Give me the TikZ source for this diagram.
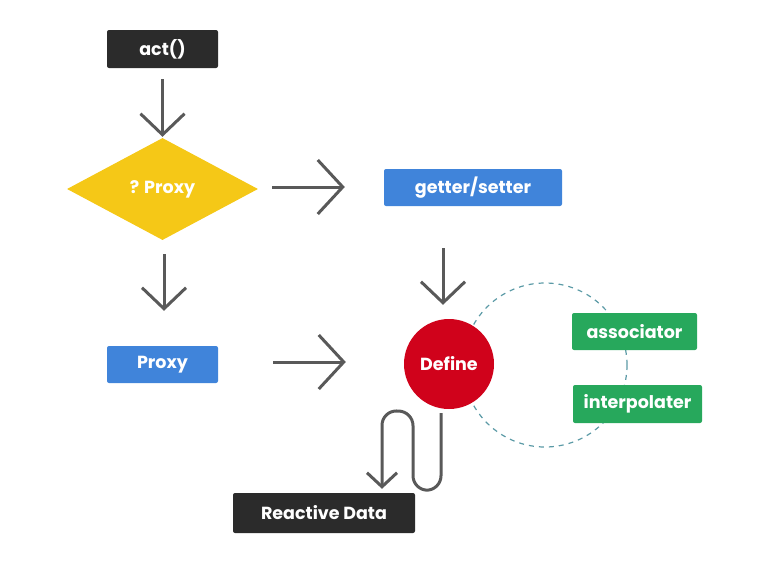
\documentclass[tikz,border=0pt]{standalone}
\usepackage{fontspec}
\setmainfont{Poppins}
\usetikzlibrary{shapes.geometric,arrows.meta,calc}
\definecolor{cdark}{HTML}{2B2B2B}
\definecolor{cyellow}{HTML}{F5C817}
\definecolor{cblue}{HTML}{4084DA}
\definecolor{cred}{HTML}{D0021B}
\definecolor{cgreen}{HTML}{27A85C}
\definecolor{cline}{HTML}{595959}
\definecolor{cdash}{HTML}{5B9AA6}
\tikzset{
  lbl/.style={text=white, font=\bfseries\fontsize{17.5}{20}\selectfont},
  boxnode/.style={lbl, rectangle, rounded corners=2pt, inner sep=0pt},
  conn/.style={draw=cline, line width=3pt},
  bigarrow/.style={conn, -{Straight Barb[length=25pt,width=54pt]}},
  midarrow/.style={conn, -{Straight Barb[length=21pt,width=44pt]}},
  smallarrow/.style={conn, -{Straight Barb[length=14pt,width=30pt]}},
}
\begin{document}
\begin{tikzpicture}[x=1pt,y=-1pt]
\useasboundingbox (0,0) rectangle (765,565);
% dashed circle behind
\draw[cdash, line width=1.2pt, dash pattern=on 5pt off 5pt] (545,365) circle (82);
% nodes
\node[boxnode, fill=cdark, minimum width=111pt, minimum height=38pt] (act) at (162.5,49) {act()};
\node[lbl, diamond, fill=cyellow, minimum width=191pt, minimum height=102pt, aspect=1.87, inner sep=0pt] (dec) at (162.5,189) {? Proxy};
\node[boxnode, fill=cblue, minimum width=178pt, minimum height=37pt] (gs) at (473,187.5) {getter/setter};
\node[boxnode, fill=cblue, minimum width=111pt, minimum height=37pt] (proxy) at (162.5,364.5) {Proxy};
\node[lbl, circle, fill=cred, minimum size=90pt, inner sep=0pt] (define) at (449,364) {Define};
\node[boxnode, fill=cgreen, minimum width=125pt, minimum height=37pt] (assoc) at (634.5,331.5) {associator};
\node[boxnode, fill=cgreen, minimum width=129pt, minimum height=38pt] (interp) at (637.5,404) {interpolater};
\node[boxnode, fill=cdark, minimum width=182pt, minimum height=40pt] (react) at (324,513) {Reactive Data};
% connectors
\draw[midarrow] ($(act.south)+(0,11)$) -- ($(dec.north)+(0,-1)$);
\draw[bigarrow] ($(dec.east)+(14,-2)$) -- ($(gs.west)+(-39,-0.5)$);
\draw[midarrow] ($(dec.south)+(1.5,14)$) -- ($(proxy.north)+(1.5,-35)$);
\draw[bigarrow] ($(proxy.east)+(55,-2.5)$) -- ($(define.west)+(-58,-2)$);
\draw[midarrow] ($(gs.south)+(-30,42)$) -- ($(define.north)+(-6,-14)$);
\coordinate (w0) at ($(define.south)+(-8,4)$);
\draw[smallarrow, rounded corners=14.5pt] (w0) -- ++(0,77) -- ++(-28,0) -- ++(0,-79) -- ($(react.north)+(58,-82)$) -- ($(react.north)+(58,-4)$);
\end{tikzpicture}
\end{document}
